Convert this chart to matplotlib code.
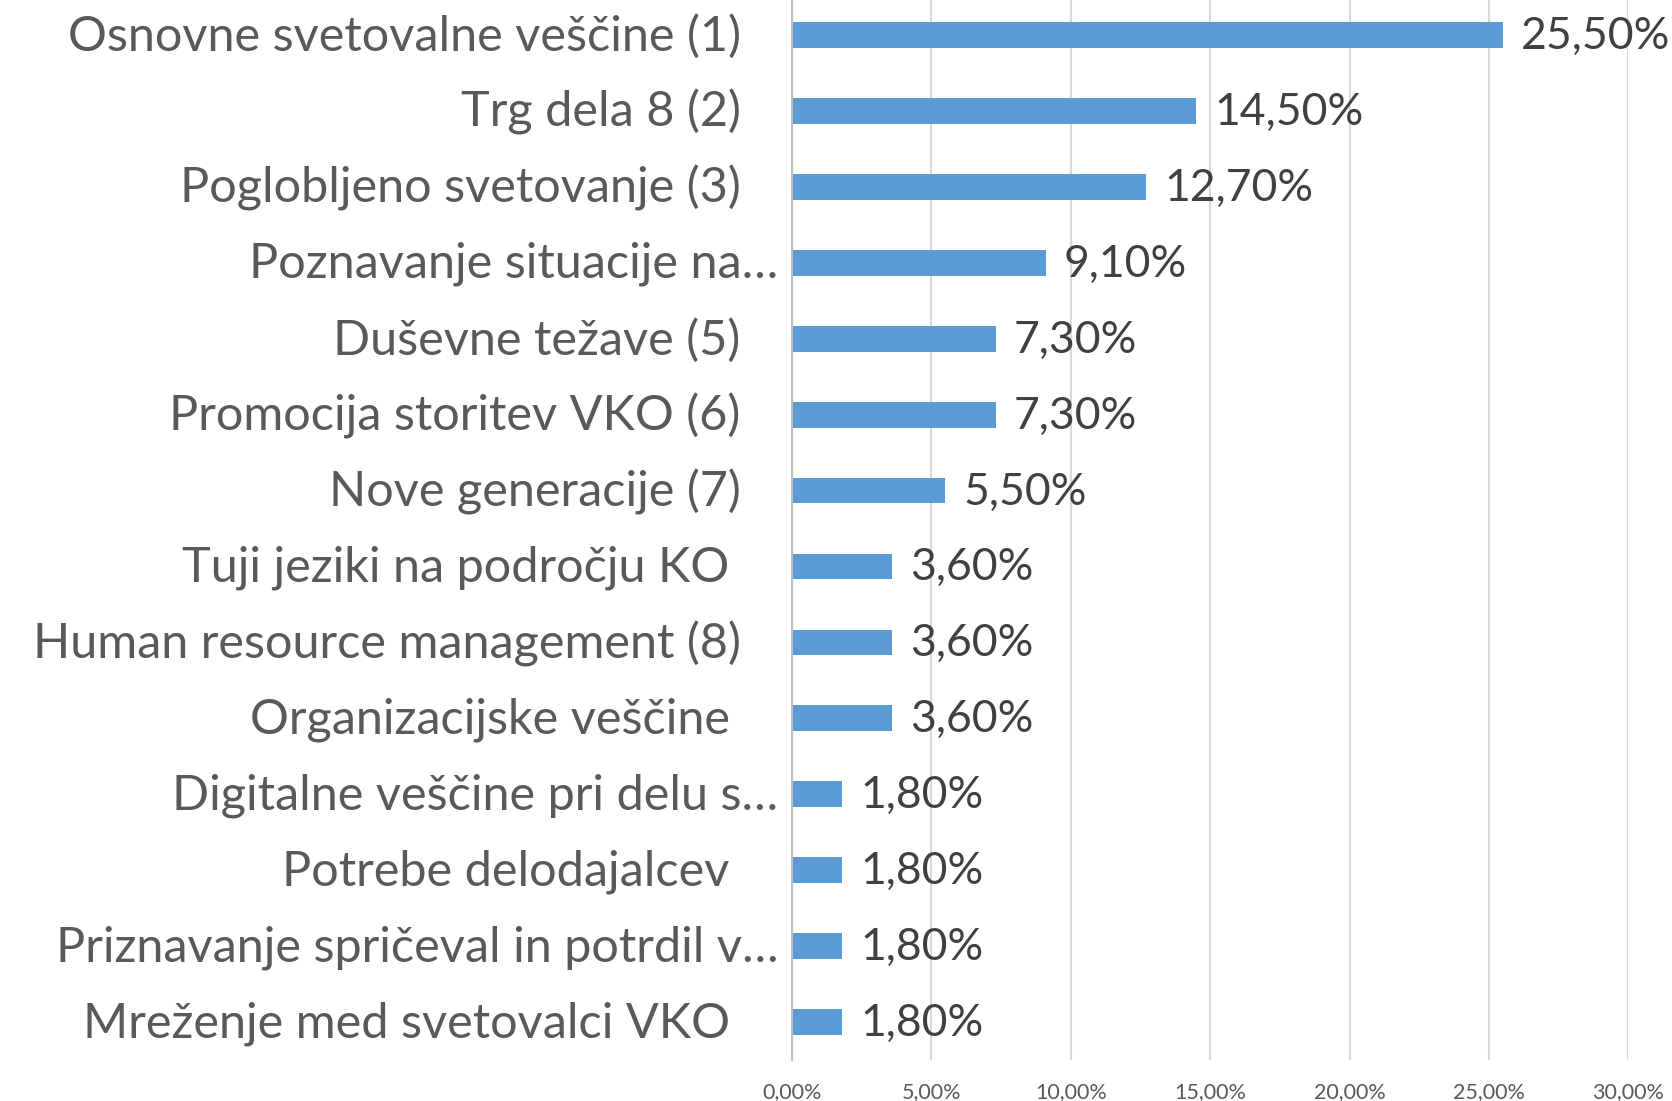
import matplotlib
matplotlib.use("Agg")
import matplotlib.pyplot as plt
from matplotlib.transforms import offset_copy

# data (top to bottom as shown)
labels = [
    "Osnovne svetovalne veščine (1)",
    "Trg dela 8 (2)",
    "Poglobljeno svetovanje (3)",
    "Poznavanje situacije na…",
    "Duševne težave (5)",
    "Promocija storitev VKO (6)",
    "Nove generacije (7)",
    "Tuji jeziki na področju KO",
    "Human resource management (8)",
    "Organizacijske veščine",
    "Digitalne veščine pri delu s…",
    "Potrebe delodajalcev",
    "Priznavanje spričeval in potrdil v…",
    "Mreženje med svetovalci VKO",
]
values = [25.5, 14.5, 12.7, 9.1, 7.3, 7.3, 5.5, 3.6, 3.6, 3.6, 1.8, 1.8, 1.8, 1.8]
xticks = [0, 5, 10, 15, 20, 25, 30]

plt.rcParams['font.family'] = ['Lato', 'DejaVu Sans']

fig = plt.figure(figsize=(16.72, 11.01), dpi=100)
ax = fig.add_axes([0.4737, 0.0372, 0.5002, 0.9655])

ypos = list(range(len(labels)))
ax.barh(ypos, values, height=0.34, color="#5b9bd5", zorder=3)
ax.set_ylim(len(labels) - 0.5, -0.5)
ax.set_xlim(0, 30)

ax.set_xticks(xticks)
ax.set_xticklabels([("%.2f%%" % t).replace(".", ",") for t in xticks],
                   fontsize=15.5, color="#595959")
ax.tick_params(axis="x", length=0, pad=16)
ax.set_yticks([])
ax.grid(axis="x", color="#d9d9d9", linewidth=1.5, zorder=0)
for s in ["top", "right", "bottom"]:
    ax.spines[s].set_visible(False)
ax.spines["left"].set_color("#bfbfbf")
ax.spines["left"].set_linewidth(1.5)
ax.spines["left"].set_zorder(4)

# category labels, right aligned left of the axis
ytrans = ax.get_yaxis_transform()
for y, lab in zip(ypos, labels):
    if lab.endswith("…"):
        pad = 10
    elif lab.endswith(")"):
        pad = 37
    else:
        pad = 45
    tr = offset_copy(ytrans, fig=fig, x=-pad, y=-1, units="points")
    ax.text(0, y, lab, transform=tr, ha="right", va="center",
            fontsize=35, color="#595959")

# value labels
for y, v in zip(ypos, values):
    ax.annotate(("%.2f%%" % v).replace(".", ","), (v, y), xytext=(13, -1),
                textcoords="offset points", ha="left", va="center",
                fontsize=32, color="#404040", annotation_clip=False)

fig.savefig("out.png", dpi=100)
